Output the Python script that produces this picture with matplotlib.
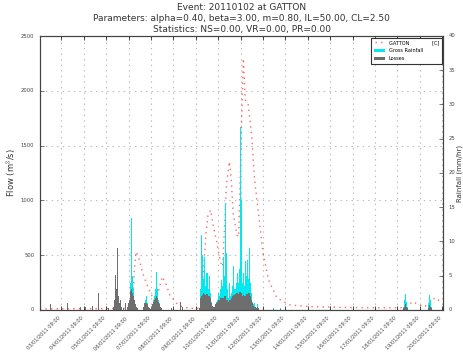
import numpy as np
import pandas as pd
import matplotlib
matplotlib.use("Agg")
import matplotlib.pyplot as plt
import matplotlib.dates as mdates
from matplotlib.patches import Patch
from matplotlib.lines import Line2D

# event start, all hours below are counted from here
start = pd.Timestamp("2011-01-02 10:00")

# streamflow (m3/s)
flow_hours = [0, 60, 98, 100, 101, 103, 105, 107, 110, 114, 118, 122, 125, 128, 131, 135,
              139, 146, 152, 161, 171, 173, 175, 178, 180, 183, 185, 189, 192, 195, 196,
              198, 200, 203, 205, 207, 211, 213, 214, 216, 218, 220, 223, 227, 230, 235,
              239, 245, 254, 268, 289, 332, 386, 391, 397, 400, 405, 412, 418, 423, 429, 431]
flow_cms = [10, 12, 15, 150, 350, 532, 500, 440, 340, 246, 167, 91, 110, 200, 304, 240,
            140, 64, 30, 15, 15, 60, 340, 700, 860, 912, 800, 638, 500, 395, 420,
            800, 1150, 1353, 1200, 885, 684, 668, 1000, 1700, 2295, 1915, 1888, 1580, 1186, 821,
            520, 274, 109, 46, 30, 22, 20, 25, 60, 76, 50, 30, 60, 109, 80, 70]

# isolated rainfall bars (gross == losses)
single_hours = [11, 29, 43, 48, 56, 62, 73, 78, 79, 80, 81, 82, 83, 84, 85, 86, 87, 89, 91,
                140, 150, 152, 250, 257]
single_gross = [0.9, 1.0, 0.4, 0.4, 0.6, 2.5, 0.3, 0.5, 1.5, 5.1, 2.0, 3.0, 9.0, 2.0, 1.0, 1.5,
                0.5, 0.3, 1.0, 0.3, 1.2, 0.4, 0.3, 0.3]
single_loss = [0.9, 1.0, 0.4, 0.4, 0.6, 2.5, 0.3, 0.5, 1.5, 5.1, 2.0, 3.0, 9.0, 2.0, 1.0, 1.5,
               0.5, 0.3, 1.0, 0.3, 1.2, 0.4, 0.1, 0.1]

# hourly blocks: (first hour, gross rainfall, losses) in mm/hr
block1_start = 93
block1_gross = [0.5, 1.0, 1.5, 2.5, 4.0, 13.4, 5.0, 3.0, 1.5, 0.8, 0.5, 0.3]
block1_loss = [0.5, 1.0, 1.5, 2.5, 2.8, 3.0, 2.5, 2.0, 1.5, 0.8, 0.5, 0.3]

block2_start = 110
block2_gross = [0.5, 0.8, 1.0, 1.5, 2.0, 1.0, 0.5, 0.3, 0.2, 0.5, 0.8, 1.5, 2.0, 3.0, 5.6,
                3.0, 2.0, 1.5, 1.0, 0.5, 0.3]
block2_loss = [0.5, 0.8, 1.0, 1.0, 1.0, 0.8, 0.5, 0.3, 0.2, 0.5, 0.8, 1.2, 1.5, 1.8, 2.0,
               1.8, 1.5, 1.2, 0.8, 0.5, 0.3]

block3_start = 170
block3_gross = [0.3, 1.0, 3.0, 11.0, 8.0, 4.5, 7.8, 3.5, 5.4, 5.4, 3.0, 4.9, 2.5, 1.2, 0.6,
                0.5, 0.3, 0.5, 0.8, 1.2, 1.5, 2.5, 2.0, 3.0, 4.4, 3.5, 7.8, 5.0, 15.6, 8.3,
                3.0, 2.0, 1.8, 3.9, 2.0, 2.5, 3.5, 6.4, 3.0, 3.0, 4.0, 5.4, 4.0, 6.0, 26.7,
                16.0, 6.0, 4.0, 5.4, 3.5, 7.1, 5.0, 7.3, 4.5, 9.0, 4.0, 2.5, 1.2, 0.8, 1.0,
                0.5, 0.6, 0.3, 0.8, 0.3]
block3_loss = [0.3, 1.0, 1.8, 2.0, 2.2, 2.5, 2.3, 2.2, 2.3, 2.4, 2.0, 2.0, 1.8, 1.0, 0.6,
               0.5, 0.3, 0.5, 0.8, 1.0, 1.2, 1.5, 1.5, 1.8, 1.7, 1.8, 1.7, 2.0, 2.0, 1.5,
               1.5, 1.3, 1.2, 1.5, 1.4, 1.8, 2.0, 2.2, 2.2, 2.4, 2.5, 2.5, 2.4, 2.6, 2.6,
               2.5, 2.2, 2.0, 2.2, 2.0, 2.0, 2.3, 2.4, 2.5, 2.5, 2.0, 1.5, 1.0, 0.6, 0.5,
               0.4, 0.5, 0.3, 0.4, 0.3]

block4_start = 389
block4_gross = [0.5, 1.5, 2.3, 1.2, 0.5]
block4_loss = [0.3, 0.5, 0.8, 0.5, 0.3]

block5_start = 416
block5_gross = [1.0, 2.2, 1.5, 0.5]
block5_loss = [0.3, 0.7, 0.5, 0.3]

title = ("Event: 20110102 at GATTON\n"
         "Parameters: alpha=0.40, beta=3.00, m=0.80, IL=50.00, CL=2.50\n"
         "Statistics: NS=0.00, VR=0.00, PR=0.00")


def to_dates(hours):
    return start + pd.to_timedelta(np.asarray(hours, dtype=float), unit="h")


# collect all rainfall bars
hours, gross, loss = list(single_hours), list(single_gross), list(single_loss)
for s, g, l in [(block1_start, block1_gross, block1_loss),
                (block2_start, block2_gross, block2_loss),
                (block3_start, block3_gross, block3_loss),
                (block4_start, block4_gross, block4_loss),
                (block5_start, block5_gross, block5_loss)]:
    hours += [s + i for i in range(len(g))]
    gross += g
    loss += l

plt.style.use("classic")
fig = plt.figure(figsize=(4.64, 3.6), dpi=100)
fig.patch.set_facecolor("white")
ax = fig.add_axes([0.086, 0.139, 0.869, 0.761])
ax2 = ax.twinx()

ax.plot(to_dates(flow_hours), flow_cms, color="red", linestyle=":", lw=1.0, alpha=0.6)
ax2.bar(to_dates(hours), gross, width=1 / 24, color="#00e8f0", edgecolor="none", align="edge")
ax2.bar(to_dates(hours), loss, width=1 / 24, color="#6e6e6e", edgecolor="none", align="edge")

ax.set_xlim(start, start + pd.Timedelta(hours=432))
ax.set_ylim(0, 2500)
ax2.set_ylim(0, 40)
ax.set_yticks(np.arange(0, 2501, 500))
ax2.set_yticks(np.arange(0, 41, 5))

ticks = pd.date_range("2011-01-03 09:00", "2011-01-20 09:00", freq="D")
ax.set_xticks(ticks)
ax.xaxis.set_major_formatter(mdates.DateFormatter("%d/%m/%Y %H:%M"))
for lab in ax.get_xticklabels():
    lab.set_rotation(45)
    lab.set_ha("right")
    lab.set_fontsize(3.6)
    lab.set_color("#444444")
ax.tick_params(axis="y", labelsize=3.8, colors="#444444", length=3)
ax2.tick_params(axis="y", labelsize=3.8, colors="#444444", length=3)
ax.tick_params(axis="x", length=3)
for a in (ax, ax2):
    for sp in a.spines.values():
        sp.set_color("#444444")
        sp.set_linewidth(0.8)

ax.grid(True, linestyle=":", color="#bbbbbb", lw=0.8)
ax.set_axisbelow(True)

ax.set_ylabel("Flow (m$^3$/s)", fontsize=6, color="#333333")
ax.yaxis.set_label_coords(-0.055, 0.5)
ax2.set_ylabel("Rainfall (mm/hr)", fontsize=5, color="#333333")
ax2.yaxis.set_label_coords(1.034, 0.5)
ax.set_title(title, fontsize=6.5, color="#333333", linespacing=1.25, pad=3)

handles = [Line2D([], [], color="red", linestyle=":", lw=1.0, alpha=0.6),
           Patch(facecolor="#00e8f0", edgecolor="none"),
           Patch(facecolor="#6e6e6e", edgecolor="none")]
labels = ["GATTON              [C]", "Gross Rainfall", "Losses"]
leg = ax2.legend(handles, labels, loc="upper right", fontsize=3.6, frameon=True,
                 handlelength=2.2, borderpad=0.5, labelspacing=0.6, borderaxespad=0.3)
leg.get_frame().set_edgecolor("#333333")
leg.get_frame().set_linewidth(0.8)

fig.savefig("out.png", dpi=100)
